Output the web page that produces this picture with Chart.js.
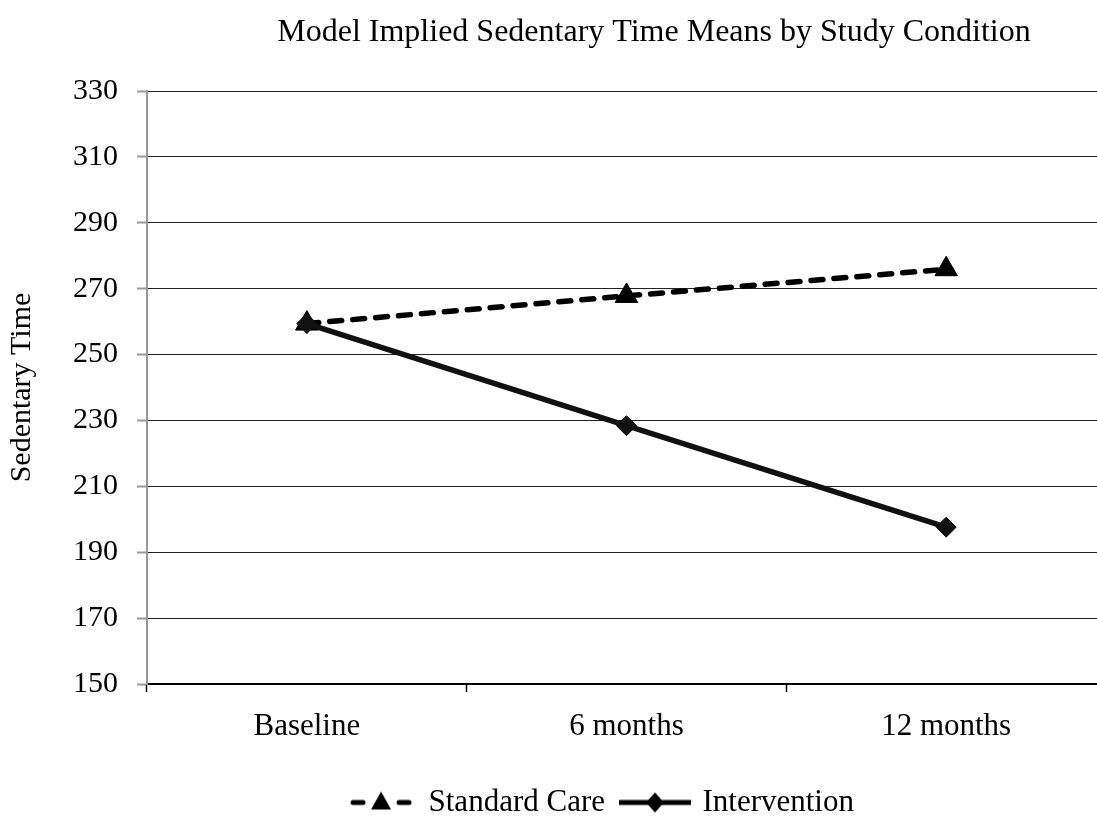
<!DOCTYPE html>
<html><head><meta charset="utf-8">
<script src="https://cdn.jsdelivr.net/npm/chart.js@4.4.1/dist/chart.umd.min.js"></script>
<style>
html,body{margin:0;padding:0;background:#fff;overflow:hidden;width:1097px;height:819px;}
canvas{display:block;}
</style></head><body>
<canvas id="c" width="1308" height="819" style="width:1308px;height:819px"></canvas>
<script>
const categories = ['Baseline', '6 months', '12 months'];
const seriesNames = ['Standard Care', 'Intervention'];
const standardCare = [259.4, 267.8, 275.9];
const intervention = [259.4, 228.4, 197.6];
const yMin = 150, yMax = 330, yStep = 20;
const chartTitle = 'Model Implied Sedentary Time Means by Study Condition';
const yAxisTitle = 'Sedentary Time';

const FONT = "'Liberation Serif', 'Times New Roman', serif";

function legendIcon(kind) {
  const c = document.createElement('canvas');
  const w = kind === 'tri' ? 64 : 72, h = 26;
  c.width = w; c.height = h;
  const g = c.getContext('2d');
  g.strokeStyle = '#000'; g.fillStyle = '#000'; g.lineWidth = 5;
  const cy = h / 2;
  if (kind === 'tri') {
    g.lineCap = 'round';
    g.beginPath(); g.moveTo(4, cy); g.lineTo(14, cy); g.moveTo(50, cy); g.lineTo(60, cy); g.stroke();
    g.beginPath(); g.moveTo(32, cy - 11); g.lineTo(42, cy + 7); g.lineTo(22, cy + 7); g.closePath(); g.fill();
  } else {
    g.lineCap = 'butt';
    g.beginPath(); g.moveTo(0, cy); g.lineTo(w, cy); g.stroke();
    g.beginPath(); g.moveTo(36, cy - 10); g.lineTo(45, cy); g.lineTo(36, cy + 10); g.lineTo(27, cy); g.closePath(); g.fill();
  }
  return c;
}
const icons = [legendIcon('tri'), legendIcon('dia')];

// nudge the (non-full-size) legend box slightly left, as in the original layout
const legendNudge = {
  id: 'legendNudge',
  afterLayout(chart) { if (chart.legend) chart.legend.left -= 50; }
};

new Chart(document.getElementById('c'), {
  type: 'line',
  data: {
    labels: categories,
    datasets: [
      {
        label: seriesNames[0],
        data: standardCare,
        order: 1,
        borderColor: '#000',
        backgroundColor: '#000',
        borderWidth: 5.5,
        borderDash: [12, 11],
        borderCapStyle: 'round',
        pointStyle: 'triangle',
        pointRadius: 13,
        pointBorderWidth: 1,
        pointBackgroundColor: '#000',
        pointBorderColor: '#000',
        tension: 0,
        fill: false
      },
      {
        label: seriesNames[1],
        data: intervention,
        order: 0,
        borderColor: '#111',
        backgroundColor: '#111',
        borderWidth: 5.5,
        pointStyle: 'rectRot',
        pointRadius: 10,
        pointBorderWidth: 1,
        pointBackgroundColor: '#111',
        pointBorderColor: '#111',
        tension: 0,
        fill: false
      }
    ]
  },
  options: {
    responsive: false,
    animation: false,
    devicePixelRatio: 1,
    layout: { padding: 0 },
    plugins: {
      tooltip: { enabled: false },
      title: {
        display: true,
        text: chartTitle,
        fullSize: true,
        color: '#000',
        font: { family: FONT, size: 32, weight: 'normal' },
        padding: { top: 13, bottom: 39.6 }
      },
      legend: {
        position: 'bottom',
        fullSize: false,
        maxHeight: 50,
        labels: {
          color: '#000',
          font: { family: FONT, size: 31 },
          usePointStyle: true,
          pointStyleWidth: 64,
          boxHeight: 26,
          padding: 18,
          generateLabels: (chart) => chart.data.datasets.map((ds, i) => ({
            text: ds.label,
            pointStyle: icons[i],
            fillStyle: '#000',
            strokeStyle: '#000',
            lineWidth: 0,
            fontColor: '#000',
            hidden: false,
            datasetIndex: i
          }))
        }
      }
    },
    scales: {
      x: {
        type: 'category',
        offset: true,
        afterFit: (s) => { s.height = 85; },
        grid: {
          offset: true,
          drawOnChartArea: false,
          drawTicks: true,
          tickLength: 8,
          tickColor: '#000',
          tickWidth: 1.5
        },
        border: { display: true, color: '#000', width: 2 },
        ticks: {
          color: '#000',
          font: { family: FONT, size: 31 },
          padding: 16,
          maxRotation: 0,
          autoSkip: false
        }
      },
      y: {
        min: yMin,
        max: yMax,
        afterFit: (s) => { s.width = 147; },
        ticks: {
          stepSize: yStep,
          color: '#000',
          font: { family: FONT, size: 30 },
          padding: 19
        },
        grid: {
          color: '#222',
          lineWidth: 1,
          drawTicks: true,
          tickLength: 10,
          tickColor: '#999',
          tickWidth: 2
        },
        border: { display: true, color: '#999', width: 2 },
        title: {
          display: true,
          text: yAxisTitle,
          color: '#000',
          font: { family: FONT, size: 30, weight: 'normal' },
          padding: { top: 4, bottom: 0 }
        }
      },
      spacer: {
        type: 'linear',
        position: 'right',
        display: true,
        afterFit: (s) => { s.width = 202; },
        ticks: { display: false },
        grid: { display: false, drawTicks: false },
        border: { display: false }
      }
    }
  },
  plugins: [legendNudge]
});
</script>
</body></html>
